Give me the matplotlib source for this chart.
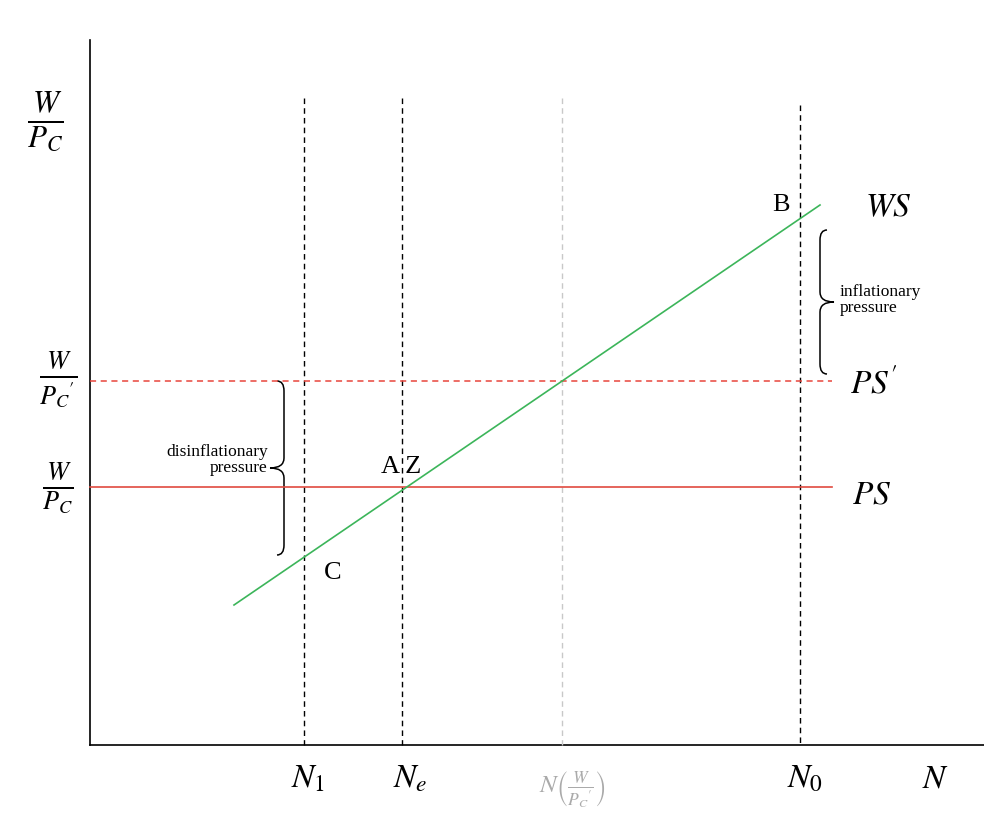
import matplotlib.pyplot as plt
from matplotlib.path import Path
from matplotlib.patches import PathPatch

plt.rcParams["mathtext.fontset"] = "stix"

# ---- diagram geometry (pixel-like units, y grows downward) ----
x_axis = [90, 984]
y_axis = [40, 745]
v_lines = {"N1": 304, "Ne": 402, "Nmid": 562, "N0": 800}
v_tops = {"N1": 98, "Ne": 98, "Nmid": 98, "N0": 105}
ws_x = [234, 820]
ws_y = [605, 205]
ps_prime_y = 381
ps_y = 487
ps_x = [90, 832]

fig = plt.figure(figsize=(9.84, 8.38), dpi=100)
ax = fig.add_axes([0, 0, 1, 1])
ax.set_xlim(0, 984)
ax.set_ylim(838, 0)
ax.axis("off")

# axes
ax.plot([x_axis[0], x_axis[0]], [y_axis[0], y_axis[1]], color="black", lw=1.2)
ax.plot(x_axis, [y_axis[1], y_axis[1]], color="black", lw=1.2)

# vertical guides
for k, xv in v_lines.items():
    col = "#c8c8c8" if k == "Nmid" else "black"
    ax.plot([xv, xv], [v_tops[k], y_axis[1]], ls=(0, (4, 3)), color=col, lw=1)

# PS lines and WS
ax.plot(ps_x, [ps_prime_y, ps_prime_y], color="#e8453c", ls=(0, (4, 3)), lw=1.1)
ax.plot(ps_x, [ps_y, ps_y], color="#e04a3f", lw=1.2)
ax.plot(ws_x, ws_y, color="#3cb55a", lw=1.2)


def brace(x, y0, y1, direction, w=14):
    # curly brace spanning y0..y1, tip pointing in `direction` (+1 right, -1 left)
    ym = (y0 + y1) / 2
    xt = x + direction * w
    xh = x + direction * w / 2
    verts = [(xh, y0), (x, y0), (x, y0 + 10),
             (x, ym - 10), (x, ym), (xt, ym),
             (x, ym), (x, ym + 10),
             (x, y1 - 10), (x, y1), (xh, y1)]
    codes = [Path.MOVETO, Path.CURVE3, Path.CURVE3,
             Path.LINETO, Path.CURVE3, Path.CURVE3,
             Path.CURVE3, Path.CURVE3,
             Path.LINETO, Path.CURVE3, Path.CURVE3]
    ax.add_patch(PathPatch(Path(verts, codes), fill=False, lw=1.1, color="black"))


brace(284, ps_prime_y, 555, -1)
brace(820, 230, 374, +1)

serif = "Liberation Serif"
ax.text(268, 460, "disinflationary\npressure", ha="right", va="center",
        family=serif, fontsize=12.5, linespacing=1.0)
ax.text(840, 300, "inflationary\npressure", ha="left", va="center",
        family=serif, fontsize=12.5, linespacing=1.0)

ax.text(781, 205, "B", family=serif, fontsize=19, ha="center", va="center")
ax.text(401, 467, "A Z", family=serif, fontsize=19, ha="center", va="center")
ax.text(333, 573, "C", family=serif, fontsize=19, ha="center", va="center")

ax.text(865, 207, r"$WS$", fontsize=24, ha="left", va="center")
ax.text(850, 383, r"$PS'$", fontsize=24, ha="left", va="center")
ax.text(852, 494, r"$PS$", fontsize=24, ha="left", va="center")

ax.text(45, 122, r"$\frac{W}{P_C}$", fontsize=32, ha="center", va="center")
ax.text(58, 380, r"$\frac{W}{P_C{}'}$", fontsize=27, ha="center", va="center")
ax.text(58, 488, r"$\frac{W}{P_C}$", fontsize=27, ha="center", va="center")

ax.text(v_lines["N1"] + 4, 778, r"$N_1$", fontsize=24, ha="center", va="center")
ax.text(v_lines["Ne"] + 8, 778, r"$N_e$", fontsize=24, ha="center", va="center")
ax.text(v_lines["Nmid"] + 10, 790, r"$N\left(\frac{W}{P_C{}'}\right)$", fontsize=18,
        ha="center", va="center", color="#aaaaaa")
ax.text(v_lines["N0"] + 5, 778, r"$N_0$", fontsize=24, ha="center", va="center")
ax.text(935, 778, r"$N$", fontsize=24, ha="center", va="center")

fig.savefig("out.png", dpi=100)
